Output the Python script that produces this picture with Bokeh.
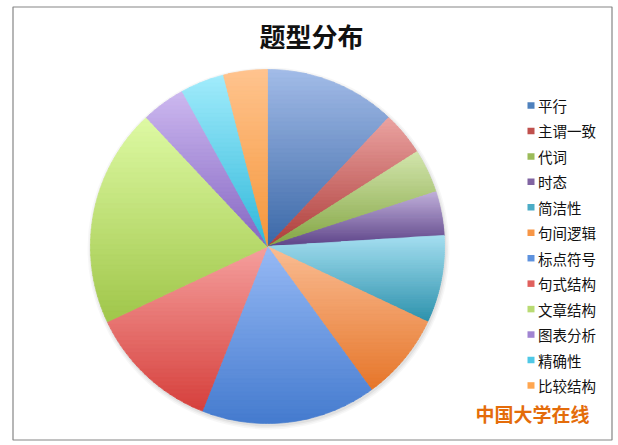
import numpy as np
from bokeh.plotting import figure
from bokeh.models import Range1d
from bokeh.core.properties import value
from bokeh.embed import file_html
from bokeh.resources import INLINE

# ---------------- data ----------------
categories = ["平行", "主谓一致", "代词", "时态", "简洁性", "句间逻辑",
              "标点符号", "句式结构", "文章结构", "图表分析", "精确性", "比较结构"]
counts = [3, 1, 1, 1, 2, 2, 4, 3, 5, 1, 1, 1]
title_text = "题型分布"
watermark_text = "中国大学在线"

# ---------------- styles ----------------
top_colors = ["#A3BCE8", "#EBA4A2", "#D4E6AE", "#C2B1DB", "#A6E0F1", "#FABD94",
              "#97BAF5", "#F5A09E", "#DEFAA4", "#CDB9F0", "#A2ECFC", "#FFC48F"]
bot_colors = ["#3B68A7", "#AE3E3B", "#84A645", "#5F468A", "#2E92AD", "#E6762A",
              "#457BCF", "#D6403C", "#A0C64A", "#8566C2", "#30B8DA", "#F5963A"]
legend_colors = ["#4F81BD", "#C0504D", "#9BBB59", "#8064A2", "#4BACC6", "#F79646",
                 "#5E92DE", "#E0605D", "#B9DB73", "#A084D2", "#4FC8E6", "#FFA650"]

W, H = 618, 445
SH = 445         # screen height used for coordinate flip
cx, cy, R = 267.0, 246.0, 177.0


def hex2rgb(h):
    h = h.lstrip("#")
    return np.array([int(h[i:i + 2], 16) for i in (0, 2, 4)], dtype=float)


def rgb2hex(c):
    c = np.clip(np.round(c), 0, 255).astype(int)
    return "#%02x%02x%02x" % tuple(c)


def clip_half(pts, inside, inter):
    out = []
    n = len(pts)
    for i in range(n):
        cur = pts[i]
        prev = pts[i - 1]
        ci, pi = inside(cur), inside(prev)
        if ci:
            if not pi:
                out.append(inter(prev, cur))
            out.append(cur)
        elif pi:
            out.append(inter(prev, cur))
    return out


def clip_band(pts, lo, hi):
    def inter_y(yv):
        def f(a, b):
            t = (yv - a[1]) / (b[1] - a[1])
            return (a[0] + t * (b[0] - a[0]), yv)
        return f
    pts = clip_half(pts, lambda p: p[1] >= lo, inter_y(lo))
    if not pts:
        return pts
    pts = clip_half(pts, lambda p: p[1] <= hi, inter_y(hi))
    return pts


p = figure(width=W, height=H, output_backend="svg", toolbar_location=None,
           x_range=Range1d(0, W), y_range=Range1d(SH - H, SH),
           min_border=0)
p.axis.visible = False
p.grid.visible = False
p.outline_line_color = None
p.background_fill_color = "white"
p.border_fill_color = "white"

# chart frame
p.quad(left=[12.5], right=[611.5], top=[SH - 6.5], bottom=[SH - 439.5],
       fill_color=None, line_color="#858585", line_width=1.2)

# soft shadow
for rr, a in [(181, 0.03), (179.5, 0.04), (178, 0.05)]:
    p.circle(x=[cx + 1], y=[SH - (cy + 2)], radius=rr, fill_color="black",
             fill_alpha=a, line_color=None)

# pie slices with vertical gradient
total = float(sum(counts))
cum = np.concatenate([[0.0], np.cumsum(counts)]) / total * 360.0
xs_all, ys_all, cols = [], [], []
NB = 40
for i in range(len(counts)):
    a0, a1 = np.radians(cum[i]), np.radians(cum[i + 1])
    n = max(4, int(np.degrees(a1 - a0)))
    th = np.linspace(a0, a1, n)
    poly = [(cx, cy)] + [(cx + R * np.sin(t), cy - R * np.cos(t)) for t in th]
    ys = [q[1] for q in poly]
    ymin, ymax = min(ys), max(ys)
    edges = np.linspace(ymin, ymax, NB + 1)
    ct, cb = hex2rgb(top_colors[i]), hex2rgb(bot_colors[i])
    for k in range(NB):
        lo = edges[k] - (0.6 if k > 0 else 0.0)
        hi = edges[k + 1]
        band = clip_band(poly, lo, hi)
        if len(band) < 3:
            continue
        t = (k + 0.5) / NB
        col = rgb2hex(ct + (cb - ct) * t)
        xs_all.append([q[0] for q in band])
        ys_all.append([SH - q[1] for q in band])
        cols.append(col)

p.patches(xs=xs_all, ys=ys_all, fill_color=cols, line_color=cols, line_width=0.7)

# title
p.text(x=[311], y=[SH - 35], text=[title_text], text_font=value("Noto Sans CJK SC"),
       text_font_size="26px", text_font_style="bold", text_color="#111111",
       text_align="center", text_baseline="middle")

# legend
ly0, dy = 105.0, 25.45
lx = [530.5] * len(categories)
ly = [SH - (ly0 + j * dy) for j in range(len(categories))]
p.rect(x=lx, y=ly, width=7, height=6.5, fill_color=legend_colors, line_color=None)
p.text(x=[537.5] * len(categories), y=ly, text=categories,
       text_font=value("Noto Sans CJK SC"), text_font_size="14.5px",
       text_color="#111111", text_align="left", text_baseline="middle")

# watermark
p.text(x=[532], y=[SH - 413], text=[watermark_text], text_font=value("Noto Sans CJK SC"),
       text_font_size="19px", text_font_style="bold", text_color="#E46C0A",
       text_align="center", text_baseline="middle")

open("out.html", "w").write(file_html(p, INLINE))
